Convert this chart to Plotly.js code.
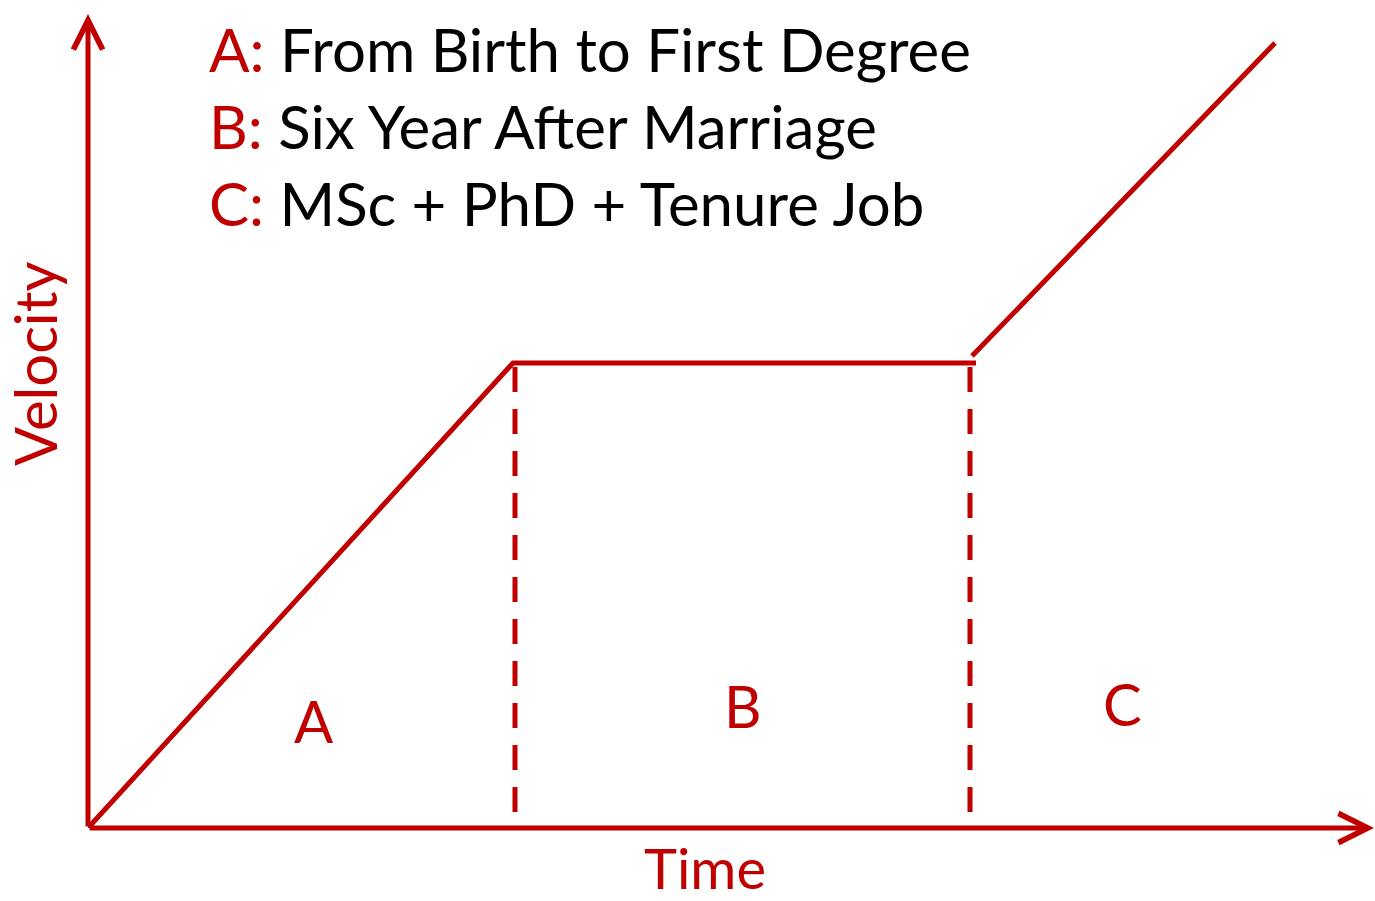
<!DOCTYPE html>
<html>
<head>
<meta charset="utf-8">
<script src="https://cdn.plot.ly/plotly-3.0.1.min.js"></script>
<style>html,body{margin:0;padding:0;background:#fff;}#chart{width:1375px;height:901px;}</style>
</head>
<body>
<div id="chart"></div>
<script>
// Data (arbitrary units: time vs velocity)
const rampTime = [0, 4.25, 8.88];          // A ramp then B plateau
const rampVelocity = [0, 4.65, 4.65];
const growthTime = [8.84, 11.87];          // C growth
const growthVelocity = [4.72, 7.85];
const boundaryTimes = [4.27, 8.82];        // dashed phase boundaries
const boundaryVelocity = [4.61, 0.16];
const phaseLabels = ['A', 'B', 'C'];
const phaseLabelTime = [2.26, 6.55, 10.34];
const phaseLabelVelocity = [1.075, 1.23, 1.25];
const legendKeys = ['A:', 'B:', 'C:'];
const legendTexts = ['From Birth to First Degree', 'Six Year After Marriage', 'MSc + PhD + Tenure Job'];
const xTitle = 'Time';
const yTitle = 'Velocity';

const RED = '#C00000';
const FONT = 'Lato, "Open Sans", sans-serif';

const traces = [
  {x: rampTime, y: rampVelocity, mode: 'lines', line: {color: RED, width: 5}, hoverinfo: 'skip'},
  {x: growthTime, y: growthVelocity, mode: 'lines', line: {color: RED, width: 5}, hoverinfo: 'skip'}
];
boundaryTimes.forEach(t => {
  traces.push({x: [t, t], y: boundaryVelocity, mode: 'lines',
    line: {color: RED, width: 5, dash: '25px,17px'}, hoverinfo: 'skip'});
});

const annotations = [];
// axis arrows
annotations.push({xref: 'paper', yref: 'paper', x: 1, y: 0, ax: -1286, ay: 0,
  showarrow: true, arrowhead: 5, arrowwidth: 5, arrowsize: 1.15, arrowcolor: RED, text: ''});
annotations.push({xref: 'paper', yref: 'paper', x: 0, y: 1, ax: 0, ay: 814,
  showarrow: true, arrowhead: 5, arrowwidth: 5, arrowsize: 1.15, arrowcolor: RED, text: ''});
// phase labels
phaseLabels.forEach((s, i) => {
  annotations.push({x: phaseLabelTime[i], y: phaseLabelVelocity[i], text: s, showarrow: false,
    xanchor: 'center', yanchor: 'middle', font: {family: FONT, size: 58, color: RED}});
});
// legend lines
const legendY = [0.9576, 0.8630, 0.7684];
legendKeys.forEach((k, i) => {
  annotations.push({xref: 'paper', yref: 'paper', x: 0.0926, y: legendY[i], xanchor: 'left', yanchor: 'middle',
    showarrow: false, align: 'left',
    text: '<span style="color:' + RED + '">' + k + '</span> ' + legendTexts[i],
    font: {family: FONT, size: 60, color: '#000'}});
});
// axis titles
annotations.push({xref: 'paper', yref: 'paper', x: (705 - 88) / 1286, y: 0, yshift: -39, text: xTitle, showarrow: false,
  xanchor: 'center', yanchor: 'middle', borderpad: 0,
  font: {family: FONT, size: 56, color: RED}});
annotations.push({xref: 'paper', yref: 'paper', x: -0.042, y: (828 - 363) / 814, text: yTitle, showarrow: false,
  textangle: -90, xanchor: 'center', yanchor: 'middle', font: {family: FONT, size: 58, color: RED}});

const layout = {
  width: 1375, height: 901,
  margin: {l: 88, r: 1, t: 14, b: 73},
  paper_bgcolor: '#fff', plot_bgcolor: '#fff',
  showlegend: false,
  xaxis: {range: [0, 12.86], showgrid: false, zeroline: false, showticklabels: false, showline: false, ticks: ''},
  yaxis: {range: [0, 8.14], showgrid: false, zeroline: false, showticklabels: false, showline: false, ticks: ''},
  annotations: annotations
};
Plotly.newPlot('chart', traces, layout, {displayModeBar: false, staticPlot: true});
</script>
</body>
</html>
